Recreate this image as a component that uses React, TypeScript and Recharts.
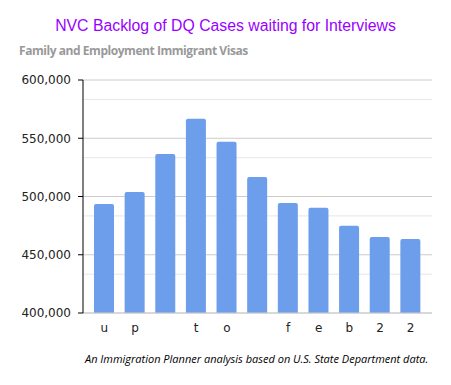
import { Bar, BarChart, CartesianGrid, XAxis, YAxis } from "recharts";

const months = ["u", "p", "", "t", "o", "", "f", "e", "b", "2", "2"];
const backlog = [493600, 503900, 536500, 566800, 547000, 516700, 494400, 490400, 474900, 465200, 463500];
const majorTicks = [400000, 450000, 500000, 550000, 600000];
const minorTicks = [416667, 433333, 466667, 483333, 516667, 533333, 566667, 583333];

const data = months.map((month, i) => ({ key: `${i}`, month, backlog: backlog[i] }));

export default function App() {
  return (
    <div style={{ position: "absolute", left: 0, top: 0, width: 451, height: 385, background: "#fff" }}>
      <div
        style={{
          position: "absolute",
          top: 17,
          width: 451,
          textAlign: "center",
          fontFamily: "'Liberation Sans', Arial, sans-serif",
          fontSize: 15.8,
          color: "#9900ff"
        }}
      >
        NVC Backlog of DQ Cases waiting for Interviews
      </div>
      <div
        style={{
          position: "absolute",
          top: 42,
          left: 19,
          fontFamily: "'Open Sans', sans-serif",
          fontWeight: 700,
          fontSize: 12,
          color: "#999",
          letterSpacing: -0.45
        }}
      >
        Family and Employment Immigrant Visas
      </div>
      <BarChart
        width={451}
        height={385}
        data={data}
        margin={{ top: 80, right: 19, bottom: 42, left: 23 }}
        barSize={20}
      >
        <CartesianGrid stroke="#e6e6e6" vertical={false} horizontalValues={minorTicks} />
        <CartesianGrid stroke="#cccccc" vertical={false} horizontalValues={majorTicks} />
        <XAxis
          dataKey="key"
          tickFormatter={(v) => months[Number(v)]}
          axisLine={{ stroke: "#cccccc" }}
          tickLine={false}
          height={30}
          tickMargin={4}
          padding={{ left: 6, right: 6 }}
          interval={0}
          tick={{ fill: "#222", fontSize: 12, fontFamily: "'DejaVu Sans', Verdana, sans-serif" }}
        />
        <YAxis
          domain={[400000, 600000]}
          ticks={majorTicks}
          width={60}
          tickSize={5}
          tickMargin={7}
          axisLine={{ stroke: "#000" }}
          tickLine={{ stroke: "#000" }}
          tickFormatter={(v) => Number(v).toLocaleString("en-US")}
          tick={{ fill: "#222", fontSize: 12, fontFamily: "'DejaVu Sans', Verdana, sans-serif" }}
        />
        <Bar dataKey="backlog" fill="#6d9eeb" radius={[2, 2, 0, 0]} isAnimationActive={false} />
      </BarChart>
      <div
        style={{
          position: "absolute",
          top: 351,
          left: 85,
          fontFamily: "'Open Sans', sans-serif",
          fontStyle: "italic",
          fontSize: 11,
          color: "#000"
        }}
      >
        An Immigration Planner analysis based on U.S. State Department data.
      </div>
    </div>
  );
}
